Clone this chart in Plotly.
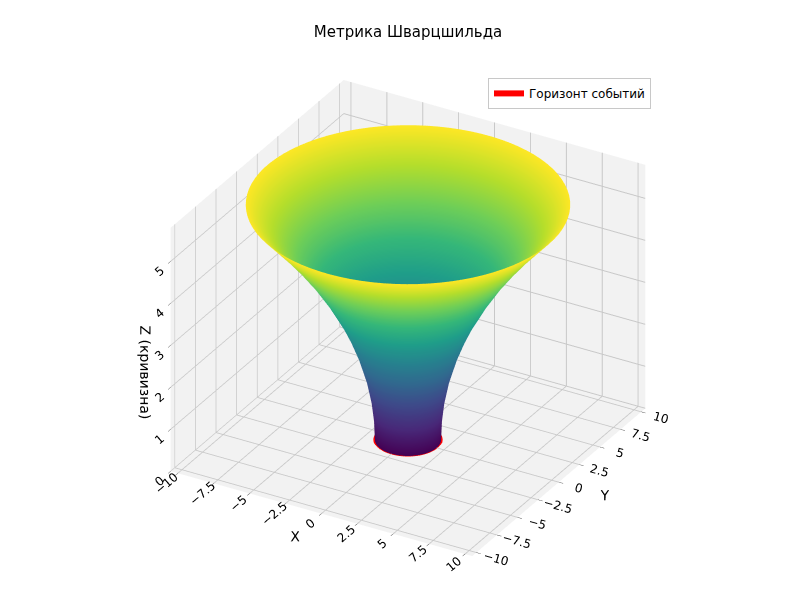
import numpy as np
import plotly.graph_objects as go

# radius of the funnel profile and its height
radius = [2.0, 2.05, 2.2, 2.5, 3.0, 3.5, 4.0, 5.0, 6.0, 7.0, 8.0, 9.0, 9.8]
height = [0.0, 0.45, 0.9, 1.42, 2.0, 2.45, 2.83, 3.46, 4.0, 4.47, 4.90, 5.29, 5.6]
horizon_radius = 2.0
axis_ticks = [-10, -7.5, -5, -2.5, 0, 2.5, 5, 7.5, 10]
z_ticks = [0, 1, 2, 3, 4, 5]

theta = np.linspace(0, 2 * np.pi, 90)
R, T = np.meshgrid(radius, theta)
Z = np.tile(height, (len(theta), 1))

fig = go.Figure()
fig.add_surface(
    x=R * np.cos(T), y=R * np.sin(T), z=Z,
    colorscale='Viridis', showscale=False, showlegend=False,
    lighting=dict(ambient=1, diffuse=0, specular=0),
)
fig.add_scatter3d(
    x=horizon_radius * np.cos(theta), y=horizon_radius * np.sin(theta),
    z=np.zeros_like(theta), mode='lines',
    line=dict(color='red', width=6), name='Горизонт событий', showlegend=True,
)

axis_style = dict(
    backgroundcolor='rgb(242,242,242)', showbackground=True,
    gridcolor='rgb(200,200,200)', zeroline=False, ticks='outside',
)
fig.update_layout(
    width=800, height=600, showlegend=True,
    font=dict(family='DejaVu Sans', size=12, color='black'),
    title=dict(text='Метрика Шварцшильда', x=0.5, y=0.97, font=dict(size=15)),
    paper_bgcolor='white',
    margin=dict(l=0, r=0, t=30, b=0),
    legend=dict(x=0.6, y=0.93, bordercolor='rgb(200,200,200)', borderwidth=1),
    scene=dict(
        xaxis=dict(title='X', tickvals=axis_ticks, range=[-10.5, 10.5], **axis_style),
        yaxis=dict(title='Y', tickvals=axis_ticks, range=[-10.5, 10.5], **axis_style),
        zaxis=dict(title='Z (кривизна)', tickvals=z_ticks, range=[0, 5.8], **axis_style),
        aspectmode='manual', aspectratio=dict(x=1.22, y=1.22, z=0.98),
        camera=dict(eye=dict(x=0.62, y=-1.08, z=0.68), center=dict(x=0, y=0, z=-0.02),
                    projection=dict(type='orthographic')),
        domain=dict(x=[0.0, 1.0], y=[0.0, 1.0]),
    ),
)

fig.write_html('out.html')
